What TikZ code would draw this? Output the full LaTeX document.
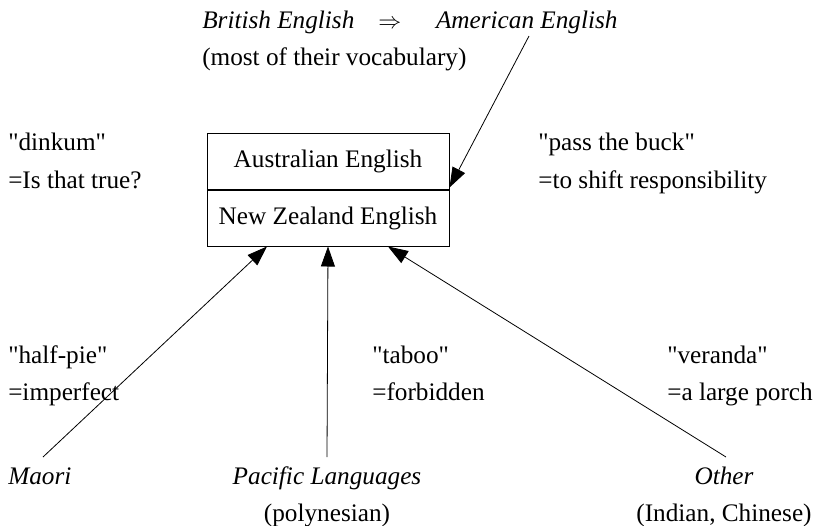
\documentclass[tikz,border=0pt]{standalone}
\usepackage{fontspec}
\setmainfont{Liberation Serif}[Ligatures=TeXOff]
\usetikzlibrary{arrows.meta}
\begin{document}
\begin{tikzpicture}[x=0.75bp,y=-0.75bp,
  txt/.style={inner sep=0pt,font=\fontsize{19}{23}\selectfont},
  lt/.style={txt,anchor=base west},
  ct/.style={txt,anchor=base},
  cell/.style={draw,line width=0.75bp,minimum width=181.5bp,minimum height=42bp,inner sep=0pt,txt},
  arr/.style={line width=0.6bp,-{Triangle[length=15bp,width=10.5bp]}}]
\useasboundingbox (0,0) rectangle (816,526);

% top
\node[lt] (brit) at (202,28) {\itshape British English\hspace{18bp}$\Rightarrow$\hspace{26bp}American English};
\node[lt] (most) at (202,65) {(most of their vocabulary)};

% box
\node[cell] (aus) at (328,161) {Australian English};
\node[cell,anchor=north] (nz) at (aus.south) {New Zealand English};

% side words
\node[lt] (dink) at (8,150) {"dinkum"};
\node[lt] (dinkm) at (8,188) {=Is that true?};
\node[lt] (buck) at (538,150) {"pass the buck"};
\node[lt] (buckm) at (538,188) {=to shift responsibility};
\node[lt] (half) at (8,363) {"half-pie"};
\node[lt] (halfm) at (8,400) {=imperfect};
\node[lt] (taboo) at (372,363) {"taboo"};
\node[lt] (taboom) at (372,400) {=forbidden};
\node[lt] (ver) at (667,363) {"veranda"};
\node[lt] (verm) at (667,400) {=a large porch};

% sources
\node[lt] (maori) at (8,484) {\itshape Maori};
\node[ct] (pac) at (327,484) {\itshape Pacific Languages};
\node[ct] (poly) at (327,521) {(polynesian)};
\node[ct] (oth) at (724,484) {\itshape Other};
\node[ct] (ind) at (724,521) {(Indian, Chinese)};

% arrow ends
\coordinate (topstart) at (529,36);
\coordinate (maoristart) at (43,457);
\coordinate (pacstart) at (327,457);
\coordinate (othstart) at (726,457);

\draw[arr] (topstart) -- ([yshift=1.5bp]aus.south east);
\draw[arr] (maoristart) -- ([xshift=-45.75bp]nz.south);
\draw[arr] (pacstart) -- (nz.south);
\draw[arr] (othstart) -- ([xshift=45bp]nz.south);
\end{tikzpicture}
\end{document}
